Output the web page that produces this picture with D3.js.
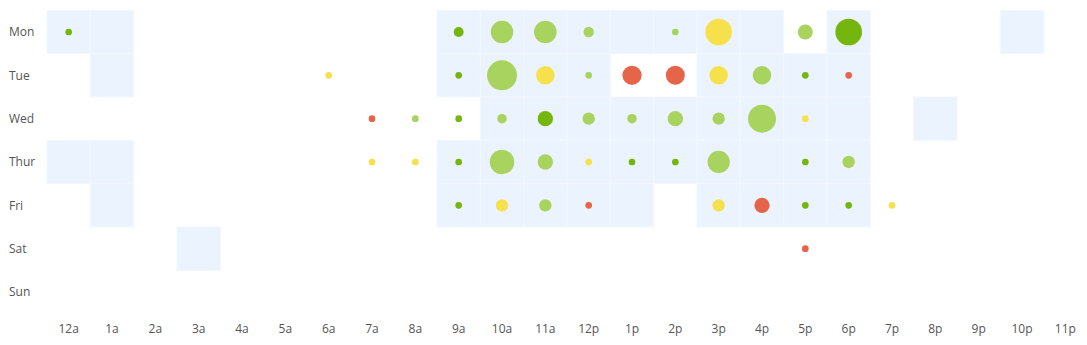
<!DOCTYPE html>
<html>
<head>
<meta charset="utf-8">
<script src="https://cdn.jsdelivr.net/npm/d3@7"></script>
<style>
  html, body { margin: 0; padding: 0; background: #fff; }
  svg { display: block; }
  text { font-family: "Open Sans", "Lato", sans-serif; font-size: 12px; fill: #555; }
</style>
</head>
<body>
<div id="chart"></div>
<script>
// ---- data ----
const days = ["Mon", "Tue", "Wed", "Thur", "Fri", "Sat", "Sun"];
const hourLabels = ["12a","1a","2a","3a","4a","5a","6a","7a","8a","9a","10a","11a",
                    "12p","1p","2p","3p","4p","5p","6p","7p","8p","9p","10p","11p"];

// shaded (active) hours per day
const shadedMon  = [0, 1, 9, 10, 11, 12, 13, 14, 15, 16, 18, 22];
const shadedTue  = [1, 9, 10, 11, 12, 15, 16, 17, 18];
const shadedWed  = [10, 11, 12, 13, 14, 15, 16, 17, 18, 20];
const shadedThur = [0, 1, 9, 10, 11, 12, 13, 14, 15, 16, 17, 18];
const shadedFri  = [1, 9, 10, 11, 12, 13, 15, 16, 17, 18];
const shadedSat  = [3];
const shadedSun  = [];

// dots per day: [hour, value, rating]
const dotsMon  = [[0,5,"great"],[9,11,"great"],[10,56,"good"],[11,57,"good"],[12,12,"good"],
                  [14,5,"good"],[15,79,"fair"],[17,25,"good"],[18,79,"great"]];
const dotsTue  = [[6,5,"fair"],[9,5,"great"],[10,100,"good"],[11,38,"fair"],[12,5,"good"],
                  [13,41,"poor"],[14,40,"poor"],[15,38,"fair"],[16,38,"good"],[17,5,"great"],[18,5,"poor"]];
const dotsWed  = [[7,5,"poor"],[8,5,"good"],[9,5,"great"],[10,10,"good"],[11,26,"great"],
                  [12,17,"good"],[13,10,"good"],[14,26,"good"],[15,17,"good"],[16,87,"good"],[17,5,"fair"]];
const dotsThur = [[7,5,"fair"],[8,5,"fair"],[9,5,"great"],[10,67,"good"],[11,26,"good"],
                  [12,5,"fair"],[13,5,"great"],[14,5,"great"],[15,55,"good"],[17,5,"great"],[18,17,"good"]];
const dotsFri  = [[9,5,"great"],[10,17,"fair"],[11,17,"good"],[12,5,"poor"],[15,17,"fair"],
                  [16,26,"poor"],[17,5,"great"],[18,5,"great"],[19,5,"fair"]];
const dotsSat  = [[17,5,"poor"]];
const dotsSun  = [];

const ratings = ["great", "good", "fair", "poor"];
const ratingColors = ["#74b60e", "#a7d35e", "#f6e04c", "#e6644a"];

// ---- layout ----
const W = 1087, H = 345;
const gridLeft = 47, gridTop = 10.33, gridW = 1040, gridH = 303.33;

const shaded = [shadedMon, shadedTue, shadedWed, shadedThur, shadedFri, shadedSat, shadedSun];
const dots = [dotsMon, dotsTue, dotsWed, dotsThur, dotsFri, dotsSat, dotsSun];

const x = d3.scaleBand().domain(hourLabels).range([gridLeft, gridLeft + gridW]).padding(0);
const y = d3.scaleBand().domain(days).range([gridTop, gridTop + gridH]).padding(0);
const r = d3.scaleSqrt().domain([0, 100]).range([0, 15]);
const color = d3.scaleOrdinal().domain(ratings).range(ratingColors);

const svg = d3.select("#chart").append("svg").attr("width", W).attr("height", H);

const cellData = [];
shaded.forEach((hrs, di) => hrs.forEach(h => cellData.push({day: days[di], hour: hourLabels[h]})));
svg.append("g").selectAll("rect").data(cellData).join("rect")
  .attr("x", d => x(d.hour)).attr("y", d => y(d.day))
  .attr("width", x.bandwidth()).attr("height", y.bandwidth())
  .attr("fill", "#ebf4fe").attr("stroke", "#f2f7fe").attr("stroke-width", 1);

const dotData = [];
dots.forEach((arr, di) => arr.forEach(([h, v, k]) => dotData.push({day: days[di], hour: hourLabels[h], v, k})));
svg.append("g").selectAll("circle").data(dotData).join("circle")
  .attr("cx", d => x(d.hour) + x.bandwidth() / 2)
  .attr("cy", d => y(d.day) + y.bandwidth() / 2)
  .attr("r", d => r(d.v))
  .attr("fill", d => color(d.k));

// axes
const yAxis = svg.append("g").attr("transform", "translate(9,0)")
  .call(d3.axisLeft(y).tickSize(0).tickPadding(0));
yAxis.select(".domain").remove();
yAxis.selectAll("text").attr("text-anchor", "start").attr("x", 0).attr("dy", "0.36em").attr("fill", "#555");

const xAxis = svg.append("g").attr("transform", "translate(0,324)")
  .call(d3.axisBottom(x).tickSize(0).tickPadding(0));
xAxis.select(".domain").remove();
xAxis.selectAll("text").attr("dy", "0.71em").attr("fill", "#555");
svg.selectAll("g").attr("font-family", null).attr("font-size", null);
</script>
</body>
</html>
